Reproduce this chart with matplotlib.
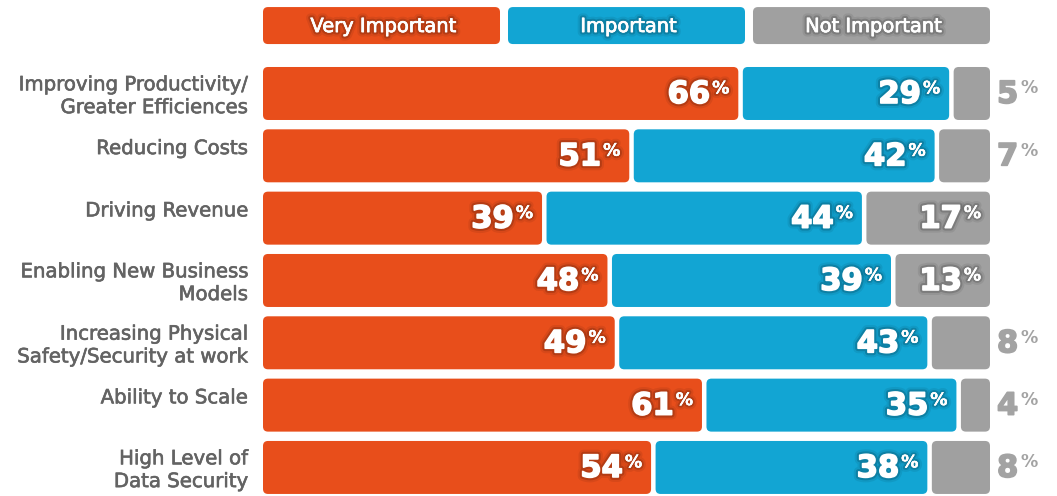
import matplotlib
matplotlib.use('Agg')
import matplotlib.pyplot as plt
from matplotlib.patches import FancyBboxPatch
import matplotlib.patheffects as pe

categories = ["Improving Productivity/\nGreater Efficiences", "Reducing Costs",
              "Driving Revenue", "Enabling New Business\nModels",
              "Increasing Physical\nSafety/Security at work", "Ability to Scale",
              "High Level of\nData Security"]
very_important = [66, 51, 39, 48, 49, 61, 54]
important = [29, 42, 44, 39, 43, 35, 38]
not_important = [5, 7, 17, 13, 8, 4, 8]
series_names = ["Very Important", "Important", "Not Important"]
colors = ["#E84E1B", "#12A5D3", "#A0A0A0"]
label_color = "#636363"
outside_color = "#A3A3A3"

W, H = 1057, 496
fig = plt.figure(figsize=(W / 100, H / 100), dpi=100)
ax = fig.add_axes([263 / W, 0, 727 / W, 1])
ax.set_xlim(0, 100)
ax.set_ylim(6.458, -1.5)
ax.axis('off')

px_x = 100 / 727.0
px_y = 1 / 62.33
aspect = px_y / px_x
r = 5 * px_x
bar_h = 53 * px_y
gap = 4.5 * px_x

def shadowed(lw_fill):
    return [pe.Stroke(linewidth=6 + lw_fill, foreground=(0, 0, 0, 0.07)),
            pe.Stroke(linewidth=3 + lw_fill, foreground=(0, 0, 0, 0.16)),
            pe.Stroke(linewidth=lw_fill, foreground='white'),
            pe.Normal()]

def thick(color, lw):
    return [pe.Stroke(linewidth=lw, foreground=color), pe.Normal()]

NUM_FONT = dict(family='DejaVu Sans', weight='bold', size=22)
PCT_FONT = dict(family='DejaVu Sans', weight='bold', size=12.5)

# legend
leg_h = 37 * px_y
leg_w = (100 - 2 * 1.1) / 3
for k, (name, c) in enumerate(zip(series_names, colors)):
    x0 = k * (leg_w + 1.1)
    ax.add_patch(FancyBboxPatch((x0, -1.09 - leg_h / 2), leg_w, leg_h,
                                boxstyle=f"round,pad=0,rounding_size={r}",
                                mutation_aspect=aspect, fc=c, ec='none'))
    ax.annotate(name, xy=(x0 + leg_w / 2, -1.09), xycoords='data',
                xytext=(2, -6.5), textcoords='offset pixels',
                ha='center', va='baseline', color='white',
                family='DejaVu Sans', size=14, path_effects=shadowed(0.5))

series = [very_important, important, not_important]
for i, cat in enumerate(categories):
    cum = 0
    for k in range(3):
        v = series[k][i]
        last = (k == 2)
        w = v - (0 if last else gap)
        ax.add_patch(FancyBboxPatch((cum, i - bar_h / 2), w, bar_h,
                                    boxstyle=f"round,pad=0,rounding_size={r}",
                                    mutation_aspect=aspect, fc=colors[k], ec='none'))
        right = cum + w
        if v >= 10:
            pct = ax.annotate('%', xy=(right, i), xycoords='data',
                              xytext=(-9, 0), textcoords='offset pixels',
                              ha='right', va='baseline', color='white',
                              path_effects=shadowed(0), **PCT_FONT)
            ax.annotate(str(v), xy=(0, i), xycoords=(pct, ax.transData),
                        xytext=(-2, -9.5), textcoords='offset pixels',
                        ha='right', va='baseline', color='white',
                        path_effects=shadowed(1.2), **NUM_FONT)
        else:
            num = ax.annotate(str(v), xy=(100, i), xycoords='data',
                              xytext=(7, -9.5), textcoords='offset pixels',
                              ha='left', va='baseline', color=outside_color,
                              path_effects=thick(outside_color, 1.2), **NUM_FONT)
            ax.annotate('%', xy=(1, i), xycoords=(num, ax.transData),
                        xytext=(2, 0), textcoords='offset pixels',
                        ha='left', va='baseline', color=outside_color,
                        **PCT_FONT)
        cum += v

    # category labels
    lines = cat.split('\n')
    n = len(lines)
    c_h, pitch = 13.5, 22.8
    delta = 8.5 if n == 1 else -1.5
    b0 = -delta + c_h / 2 - (n - 1) * pitch / 2
    for j, line in enumerate(lines):
        ax.annotate(line, xy=(0, i), xycoords='data',
                    xytext=(-15, -(b0 + j * pitch)), textcoords='offset pixels',
                    ha='right', va='baseline', color=label_color,
                    family='DejaVu Sans', size=14.2,
                    path_effects=thick(label_color, 0.45))

fig.savefig('out.png', dpi=100)
